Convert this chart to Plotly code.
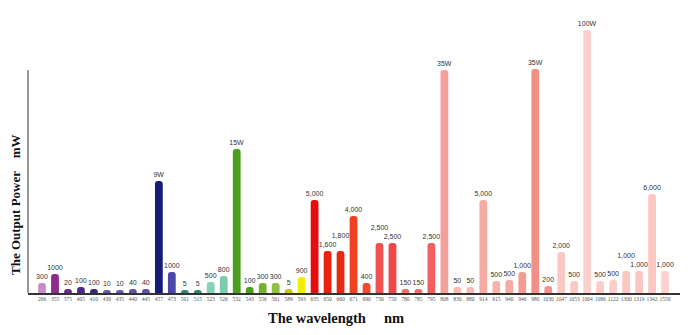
import plotly.graph_objects as go

wavelengths = ["266", "355", "375", "405", "410", "430", "435", "440", "445", "457", "473",
               "501", "515", "523", "526", "532", "543", "556", "561", "589", "593",
               "635", "650", "660", "671", "690", "730", "750", "780", "785", "795",
               "808", "830", "880", "914", "915", "940", "946", "980", "1030", "1047",
               "1053", "1064", "1086", "1122", "1300", "1319", "1342", "1550"]

power_labels = ["300", "1000", "20", "100", "100", "10", "10", "40", "40", "9W", "1000",
                "5", "5", "500", "800", "15W", "100", "300", "300", "5", "900",
                "5,000", "1,600", "1,800", "4,000", "400", "2,500", "2,500", "150", "150", "2,500",
                "35W", "50", "50", "5,000", "500", "500", "1,000", "35W", "200", "2,000",
                "500", "100W", "500", "500", "1,000", "1,000", "6,000", "1,000"]

# pictorial bar heights (arbitrary display units)
display_heights = [10, 19, 4, 6, 4, 3, 3, 4, 4, 112, 21,
                   3, 3, 11, 17, 144, 6, 10, 10, 4, 16,
                   93, 42, 42, 77, 10, 50, 50, 4, 4, 50,
                   223, 6, 6, 93, 12, 13, 21, 224, 7, 41,
                   12, 263, 12, 13, 22, 22, 99, 22]

colors = ["#c88cc8", "#8e2c8e", "#6a2a88", "#4a2a8a", "#3c2478", "#6a58b0", "#6a58b0", "#6050a8", "#6050a8", "#141c78", "#4a48a8",
          "#2e8a60", "#2e8a68", "#84d2b8", "#7ccab0", "#4aa01e", "#4a9e1c", "#72b22e", "#8cc23c", "#c8c400", "#f2ee00",
          "#e80c0c", "#e8220e", "#e82a14", "#ee4220", "#f04a30", "#f05252", "#ee4848", "#f07070", "#f06a6a", "#f06060",
          "#f4a09a", "#f8bcb4", "#f8bcb4", "#f6aaa2", "#f8b2aa", "#f6aaa2", "#f49a92", "#f29088", "#f49090", "#fcc8c4",
          "#fcc8c4", "#fcd0cc", "#fcccc8", "#fcccc8", "#fcc6c2", "#fcc6c2", "#fcc6c2", "#fcd2ce"]

# labels raised one line to avoid touching neighbours (as in the reference)
raised_labels = {"660", "730", "1300"}
bar_texts = [t + "<br> " if w in raised_labels else t for w, t in zip(wavelengths, power_labels)]

label_font = dict(family="Liberation Sans", size=7, color="#333333")

fig = go.Figure()
fig.add_trace(go.Bar(
    x=list(range(len(wavelengths))),
    y=display_heights,
    marker=dict(color=colors, line=dict(width=0), cornerradius=4),
    width=0.6,
    text=bar_texts,
    textposition="outside",
    constraintext="none",
    textfont=label_font,
    outsidetextfont=label_font,
    cliponaxis=False,
    hoverinfo="skip",
))

fig.update_layout(
    width=696, height=335,
    margin=dict(l=28, r=16, t=20, b=42),
    plot_bgcolor="white", paper_bgcolor="white",
    showlegend=False,
    bargap=0.4,
)
fig.update_xaxes(
    range=[-1.08, 49.15],
    tickmode="array",
    tickvals=list(range(len(wavelengths))),
    ticktext=wavelengths,
    tickangle=0,
    tickfont=dict(family="Liberation Serif", size=5.5, color="#555555"),
    showgrid=False, zeroline=False,
    showline=True, linecolor="#333333", linewidth=1.5,
    ticks="", ticklen=0,
)
fig.update_yaxes(range=[0, 273], visible=False)

fig.add_shape(type="line", xref="paper", yref="y", x0=0, x1=0, y0=0, y1=223,
              line=dict(color="#555555", width=1.2))

fig.add_annotation(text="<b>The wavelength &nbsp;&nbsp;&nbsp;&nbsp;nm</b>", xref="paper", yref="paper",
                   x=(336 - 28) / 652, y=-(318 - 293) / 273, showarrow=False,
                   font=dict(family="Liberation Serif", size=14.5, color="#111111"),
                   xanchor="center", yanchor="middle")
fig.add_annotation(text="<b>The Output Power &nbsp;&nbsp;&nbsp;mW</b>", xref="paper", yref="paper",
                   x=-(28 - 15) / 652, y=(293 - 205) / 273, showarrow=False, textangle=-90,
                   font=dict(family="Liberation Serif", size=13, color="#111111"),
                   xanchor="center", yanchor="middle")

fig.write_html("out.html")
